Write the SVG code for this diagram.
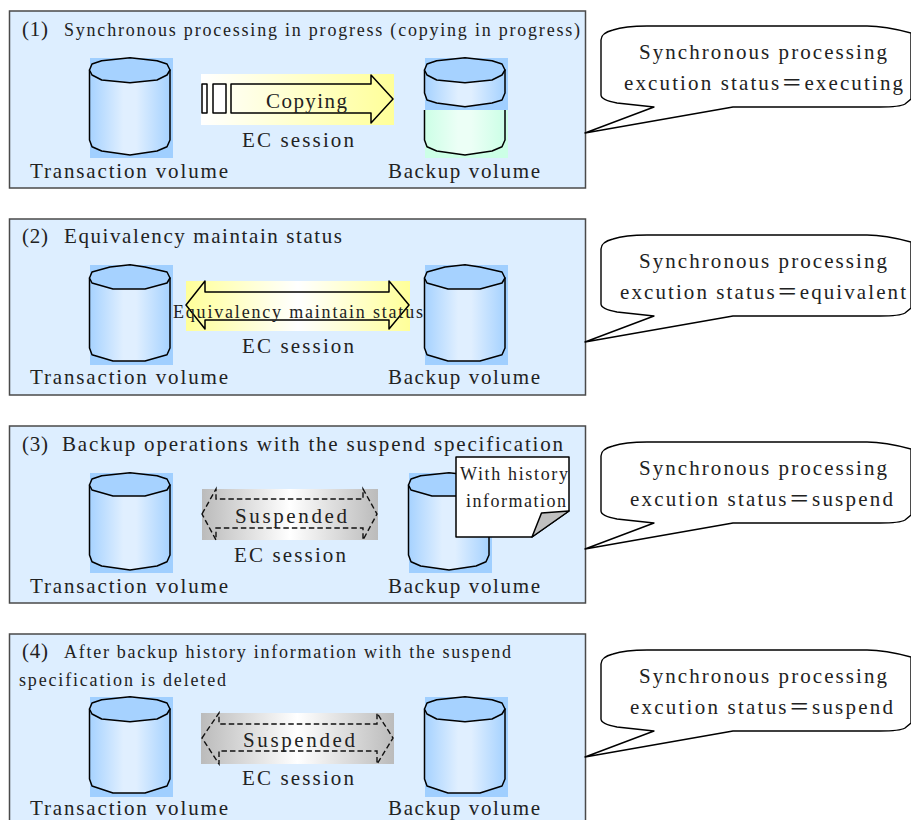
<svg xmlns="http://www.w3.org/2000/svg" width="911" height="820" viewBox="0 0 911 820">
<style>
.panel{fill:#ddeeff;stroke:#4a4a4a;stroke-width:1.5}
.ol{stroke:#000;stroke-width:1.5;stroke-linejoin:round}
.dash{fill:none;stroke:#111;stroke-width:1.4;stroke-dasharray:5.5 3}
.bub{fill:#fff;stroke:#000;stroke-width:1.4;stroke-linejoin:round}
text{font-family:"Liberation Serif","Noto Sans CJK JP",serif;font-size:21px;fill:#222}
.t{font-size:20px}.s{font-size:18px}
.bg{fill:#a0cfff}
.lid{fill:#a6d2ff}
.body{fill:url(#gb)}
</style>
<defs>
<linearGradient id="gb"><stop offset="0" stop-color="#a6d2ff"/><stop offset=".42" stop-color="#e0efff"/><stop offset=".58" stop-color="#e0efff"/><stop offset="1" stop-color="#a6d2ff"/></linearGradient>
<linearGradient id="gg"><stop offset="0" stop-color="#ccffe6"/><stop offset=".42" stop-color="#ecfff6"/><stop offset=".58" stop-color="#ecfff6"/><stop offset="1" stop-color="#ccffe6"/></linearGradient>
<linearGradient id="gwy"><stop offset="0" stop-color="#fff"/><stop offset="1" stop-color="#ffff99"/></linearGradient>
<linearGradient id="gyw"><stop offset="0" stop-color="#ffff99"/><stop offset=".5" stop-color="#fff"/><stop offset="1" stop-color="#ffff99"/></linearGradient>
<linearGradient id="ggr"><stop offset="0" stop-color="#bbb"/><stop offset=".5" stop-color="#fff"/><stop offset="1" stop-color="#bbb"/></linearGradient>
<g id="cylA">
<rect class="bg" x="90" y="58" width="83" height="100"/>
<path class="ol body" d="M89.5 70V140L92 146.7L101.7 151L130 155L157 151L167 146.7L170 140V70Z"/>
<path class="ol lid" d="M89.5 70L92 64L101.7 60.7L130 57.7L157 60.7L167 64L170 70L167 75L157 80L130 82.7L101.7 80L92 75Z"/>
</g>
<g id="cylB">
<rect class="bg" x="90" y="58" width="83" height="100"/>
<path class="ol body" d="M89.5 71V141L92 147.7L113 154H145L167 147.7L170 141V71Z"/>
<path class="ol lid" d="M89.5 71L92 65L110 60L130 57.7L145 60L167 65L170 71L167 76L145 82H113L92 76Z"/>
</g>
<g id="cylC">
<rect class="bg" x="90" y="58" width="83" height="100"/>
<path class="ol body" d="M89.5 70V140L92 146.7L101.7 151L130 155L157 151L167 146.7L170 140V70Z"/>
<path class="ol lid" d="M89.5 70L92 64L101.7 60.7L130 57.7L157 60.7L167 64L170 70L167 75L145 81H113L92 75Z"/>
</g>
<g id="cylD">
<rect class="bg" x="90" y="58" width="83" height="100"/>
<path class="ol body" d="M89.5 70V140L92 147L113 154H145L167 147L170 140V70Z"/>
<path class="ol lid" d="M89.5 70L92 64L101.7 60.7L130 57.7L157 60.7L167 64L170 70L167 75L157 80L130 82.7L101.7 80L92 75Z"/>
</g>
<path id="bubble" class="bub" d="M585 133L654 107L617 103Q601 100 601 95V40Q601 33 613 30Q625 26 647 26H867Q885 26 911 33V99L905 104Q900 107 880 107H733Z"/>
</defs>

<g id="panel-1">
<rect class="panel" x="9.5" y="11" width="576" height="177"/>
<text x="22" y="36" textLength="26">(1)</text>
<text class="s" x="64" y="36" textLength="516">Synchronous processing in progress (copying in progress)</text>
<use href="#cylA"/>
<text x="30" y="178" textLength="198">Transaction volume</text>
<g id="backup-1">
<rect class="bg" x="425" y="58" width="83" height="52"/>
<rect x="425" y="110" width="83" height="48" fill="#ccffe6"/>
<path fill="url(#gg)" d="M424.5 110V140L427 146.7L436.7 151L465 155L492 151L502 146.7L505 140V110Z"/>
<path class="ol" fill="none" d="M424.5 110V140L427 146.7L436.7 151L465 155L492 151L502 146.7L505 140V110"/>
<path class="ol body" d="M424.5 70V93L427 100L436.7 103L465 106.7L492 103L502 100L505 93V70Z"/>
<path class="ol lid" d="M424.5 70L427 64L436.7 60.7L465 57.7L492 60.7L502 64L505 70L502 75L492 80L465 82.7L436.7 80L427 75Z"/>
</g>
<text x="388" y="178" textLength="152">Backup volume</text>
<g id="arrow-1">
<rect x="201" y="74" width="193" height="51" fill="url(#gwy)"/>
<rect class="ol" x="202" y="84" width="5" height="29" fill="#fff"/>
<rect class="ol" x="213" y="84" width="13" height="29" fill="#fff"/>
<path class="ol" fill="none" d="M231 84H371V75L393 99L371 123V113H231Z"/>
<text x="266" y="108" textLength="81">Copying</text>
</g>
<text x="242" y="147" textLength="112">EC session</text>
</g>

<g id="callout-1">
<use href="#bubble"/>
<text x="639" y="59" textLength="248">Synchronous processing</text>
<text x="624" y="90" textLength="279">excution status＝executing</text>
</g>

<g id="panel-2">
<rect class="panel" x="9.5" y="219" width="576" height="176"/>
<text x="22" y="243" textLength="26">(2)</text>
<text x="64" y="243" textLength="278">Equivalency maintain status</text>
<use href="#cylB" transform="translate(0,207)"/>
<use href="#cylB" transform="translate(335,207)"/>
<g id="arrow-2">
<rect x="186" y="281" width="224" height="50" fill="url(#gyw)"/>
<path class="ol" fill="none" d="M186 305L205 281V292H389V281L409 305L389 329V320H205V329Z"/>
<text class="s" x="173" y="318" textLength="250">Equivalency maintain status</text>
</g>
<text x="242" y="353" textLength="112">EC session</text>
<text x="30" y="384" textLength="198">Transaction volume</text>
<text x="388" y="384" textLength="152">Backup volume</text>
</g>

<g id="callout-2" transform="translate(0,209)">
<use href="#bubble"/>
<text x="639" y="59" textLength="248">Synchronous processing</text>
<text x="620" y="90" textLength="286">excution status＝equivalent</text>
</g>

<g id="panel-3">
<rect class="panel" x="9.5" y="426" width="576" height="177"/>
<text x="22" y="451" textLength="26">(3)</text>
<text x="62" y="451" textLength="501">Backup operations with the suspend specification</text>
<use href="#cylC" transform="translate(0,415)"/>
<use href="#cylC" transform="translate(319,415)"/>
<g id="arrow-3">
<rect x="202" y="489" width="176" height="51" fill="url(#ggr)"/>
<path class="dash" d="M202 514L216 489V499H363V489L377 514L363 540V528H216V540Z"/>
<text x="235" y="523" textLength="112">Suspended</text>
</g>
<text x="234" y="562" textLength="112">EC session</text>
<g id="note">
<path class="ol" fill="#fff" d="M456 457H569V511L532 537H456Z"/>
<path class="ol" fill="#c0c0c0" d="M532 537L541.5 513L569 511Z"/>
<text class="s" x="460" y="480" textLength="108">With history</text>
<text class="s" x="466" y="507" textLength="100">information</text>
</g>
<text x="30" y="593" textLength="198">Transaction volume</text>
<text x="388" y="593" textLength="152">Backup volume</text>
</g>

<g id="callout-3" transform="translate(0,416)">
<use href="#bubble"/>
<text x="639" y="59" textLength="248">Synchronous processing</text>
<text x="630" y="90" textLength="263">excution status＝suspend</text>
</g>

<g id="panel-4">
<rect class="panel" x="9.5" y="634" width="576" height="200"/>
<text x="22" y="658" textLength="26">(4)</text>
<text class="s" x="64" y="658" textLength="447">After backup history information with the suspend</text>
<text class="s" x="19" y="686" textLength="207">specification is deleted</text>
<use href="#cylD" transform="translate(0,639)"/>
<use href="#cylD" transform="translate(335,639)"/>
<g id="arrow-4">
<rect x="201" y="713" width="193" height="51" fill="url(#ggr)"/>
<path class="dash" d="M202 738L219 713V724H377V713L393 738L377 764V751H219V764Z"/>
<text x="243" y="747" textLength="112">Suspended</text>
</g>
<text x="242" y="785" textLength="112">EC session</text>
<text x="30" y="815" textLength="198">Transaction volume</text>
<text x="388" y="815" textLength="152">Backup volume</text>
</g>

<g id="callout-4" transform="translate(0,624)">
<use href="#bubble"/>
<text x="639" y="59" textLength="248">Synchronous processing</text>
<text x="630" y="90" textLength="263">excution status＝suspend</text>
</g>
</svg>
